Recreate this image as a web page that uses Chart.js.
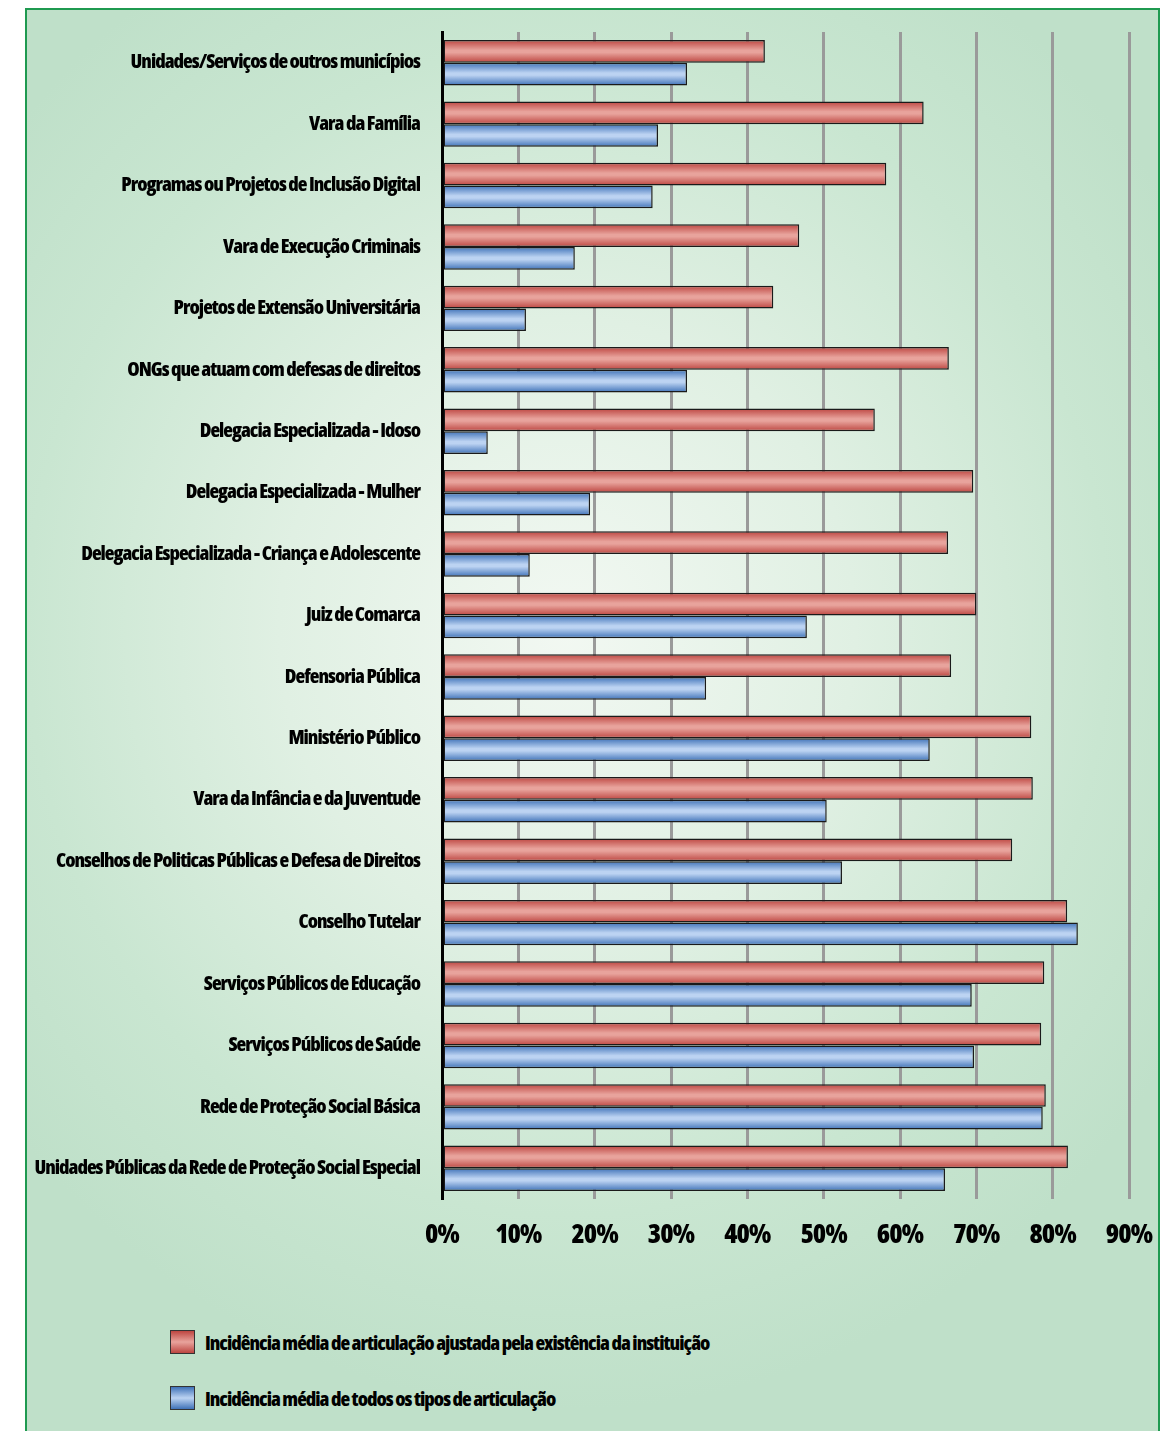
<!DOCTYPE html>
<html>
<head>
<meta charset="utf-8">
<script src="https://cdn.jsdelivr.net/npm/chart.js@4/dist/chart.umd.min.js"></script>
<style>
  html, body {
    margin: 0;
    padding: 0;
    background: #fff;
  }
  #frame {
    position: absolute;
    left: 25px;
    top: 8px;
    width: 1135px;
    height: 1423px;
    box-sizing: border-box;
    border: 2px solid #1f9a50;
    border-bottom: none;
    background: radial-gradient(ellipse 720px 780px at 540px 620px, #f2f8f2 0%, #e0f0e3 40%, #c9e6d1 75%, #bfe0c9 100%);
    overflow: hidden;
  }
  #chart {
    position: absolute;
    left: 0;
    top: 0;
  }
  #legend {
    position: absolute;
    left: 143px;
    top: 1319px;
    font-family: 'Open Sans', sans-serif;
    font-stretch: condensed;
    font-weight: 800;
    font-size: 20px;
    letter-spacing: -1px;
    color: #000;
  }
  .item {
    display: flex;
    align-items: center;
    height: 26px;
    margin-bottom: 30px;
  }
  .swatch {
    width: 23px;
    height: 22px;
    border: 1px solid #333;
    margin-right: 10px;
  }
</style>
</head>
<body>
<div id="frame">
  <canvas id="chart" width="1131" height="1270"></canvas>
  <div id="legend"></div>
</div>
<script>
const categories = [
  "Unidades/Serviços de outros municípios",
  "Vara da Família",
  "Programas ou Projetos de Inclusão Digital",
  "Vara de Execução Criminais",
  "Projetos de Extensão Universitária",
  "ONGs que atuam com defesas de direitos",
  "Delegacia Especializada - Idoso",
  "Delegacia Especializada - Mulher",
  "Delegacia Especializada - Criança e Adolescente",
  "Juiz de Comarca",
  "Defensoria Pública",
  "Ministério Público",
  "Vara da Infância e da Juventude",
  "Conselhos de Politicas Públicas e Defesa de Direitos",
  "Conselho Tutelar",
  "Serviços Públicos de Educação",
  "Serviços Públicos de Saúde",
  "Rede de Proteção Social Básica",
  "Unidades Públicas da Rede de Proteção Social Especial",
];

// percentages
const adjusted = [42.3, 63.1, 58.2, 46.8, 43.4, 66.4, 56.7, 69.6, 66.3, 70.0, 66.7, 77.2, 77.4, 74.7, 81.9, 78.9, 78.5, 79.1, 82.0];
const allTypes = [32.1, 28.3, 27.6, 17.4, 11.0, 32.1, 6.0, 19.4, 11.5, 47.8, 34.6, 63.9, 50.4, 52.4, 83.3, 69.4, 69.7, 78.7, 65.9];

const seriesNames = [
  "Incidência média de articulação ajustada pela existência da instituição",
  "Incidência média de todos os tipos de articulação",
];

const xTicks = [0, 10, 20, 30, 40, 50, 60, 70, 80, 90];

const CATEGORY_PCT = 0.74;
const FONT = "'Open Sans', sans-serif";

const palette = [
  {dark: "#bd4641", light: "#e8a39c"},
  {dark: "#3f72b8", light: "#bcd3f2"},
];

// shaded "tube" fill, light in the middle of each bar
function barFill(ctx)
{
  const colors = palette[ctx.datasetIndex];
  const chart = ctx.chart;
  const y = chart.scales.y;
  if (!y || ctx.dataIndex === undefined)
    return colors.dark;
  const center = y.getPixelForValue(ctx.dataIndex);
  const band = (y.getPixelForValue(1) - y.getPixelForValue(0)) * CATEGORY_PCT / 2;
  if (!isFinite(center) || !isFinite(band) || band <= 0)
    return colors.dark;
  const top = ctx.datasetIndex === 0 ? center - band : center;
  const g = chart.ctx.createLinearGradient(0, top, 0, top + band);
  g.addColorStop(0, colors.dark);
  g.addColorStop(0.45, colors.light);
  g.addColorStop(0.55, colors.light);
  g.addColorStop(1, colors.dark);
  return g;
}

function barDataset(label, data)
{
  return {
    label: label,
    data: data,
    backgroundColor: barFill,
    borderColor: "#1a1a1a",
    borderWidth: 1.5,
    borderSkipped: false,
    categoryPercentage: CATEGORY_PCT,
    barPercentage: 1.0,
  };
}

// tighter letters for the condensed labels
const tightText = {
  id: "tightText",
  beforeDraw(chart)
  {
    chart.ctx.letterSpacing = "-1px";
  },
};

const chart = new Chart(document.getElementById("chart"), {
  type: "bar",
  data: {
    labels: categories,
    datasets: [
      barDataset(seriesNames[0], adjusted),
      barDataset(seriesNames[1], allTypes),
    ],
  },
  plugins: [tightText],
  options: {
    indexAxis: "y",
    responsive: false,
    animation: false,
    layout: {padding: {top: 22, right: 29, left: 0, bottom: 0}},
    plugins: {
      legend: {display: false},
      tooltip: {enabled: false},
      colors: {enabled: false},
    },
    scales: {
      x: {
        min: 0,
        max: 90,
        afterFit: (scale) => {
          scale.height = 81;
          scale.paddingLeft = 0;
          scale.paddingRight = 0;
        },
        afterBuildTicks: (scale) => { scale.ticks = xTicks.map(v => ({value: v})); },
        grid: {color: "#9a9a9a", lineWidth: 3, drawTicks: false},
        border: {display: false},
        ticks: {
          padding: 20,
          color: "#000",
          font: {family: FONT, weight: "800 condensed", size: 27},
          callback: (v) => v + "%",
        },
      },
      y: {
        afterFit: (scale) => {
          scale.width = 415;
          scale.paddingTop = 0;
          scale.paddingBottom = 0;
        },
        grid: {display: false},
        border: {color: "#000", width: 3},
        ticks: {
          padding: 14,
          color: "#000",
          font: {family: FONT, weight: "800 condensed", size: 20},
        },
      },
    },
  },
});
chart.update();

// legend below the plot
const legend = document.getElementById("legend");
seriesNames.forEach((name, i) => {
  const item = document.createElement("div");
  item.className = "item";
  const sw = document.createElement("span");
  sw.className = "swatch";
  sw.style.background = `linear-gradient(${palette[i].dark}, ${palette[i].light} 50%, ${palette[i].dark})`;
  const text = document.createElement("span");
  text.textContent = name;
  item.appendChild(sw);
  item.appendChild(text);
  legend.appendChild(item);
});
</script>
</body>
</html>
